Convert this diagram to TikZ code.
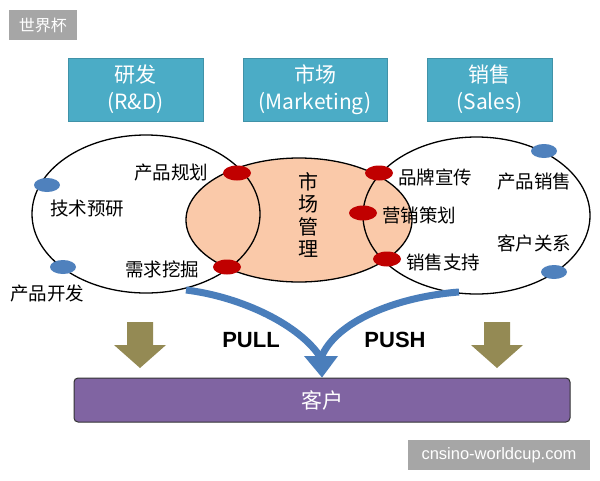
\documentclass[tikz,border=0pt]{standalone}
\usepackage{fontspec}
\usetikzlibrary{shapes.geometric,calc}
\newfontfamily\cjk{Noto Sans CJK SC}
\newfontfamily\lsans{Liberation Sans}
\definecolor{tealbox}{HTML}{4BACC6}
\definecolor{peach}{HTML}{FAC9A9}
\definecolor{dotred}{HTML}{C00000}
\definecolor{dotblue}{HTML}{4F81BD}
\definecolor{arrblue}{HTML}{4A7EBB}
\definecolor{olive1}{HTML}{948A54}
\definecolor{purple1}{HTML}{8064A2}
\definecolor{wmgray}{HTML}{A6A6A6}
\begin{document}
\begin{tikzpicture}[x=1pt,y=-1pt,
  topbox/.style={fill=tealbox, draw=tealbox!85!black, line width=0.6pt, text=white, align=center,
    font=\cjk\fontsize{21}{27}\selectfont, minimum height=63pt, inner sep=0pt},
  lbl/.style={font=\cjk\fontsize{18.5}{20}\selectfont, inner sep=0pt},
  rdot/.style={fill=dotred, ellipse, minimum width=28pt, minimum height=15pt, inner sep=0pt},
  bdot/.style={fill=dotblue, ellipse, minimum width=26pt, minimum height=14pt, inner sep=0pt},
  ring/.style={draw=black, line width=1.3pt},
  blockarrow/.style={fill=olive1},
  flow/.style={draw=arrblue, line width=7pt},
  wm/.style={fill=wmgray, text=white, inner sep=0pt}
]
\useasboundingbox (0,0) rectangle (600,480);
\fill[white] (0,0) rectangle (600,480);

% top boxes
\node[topbox, minimum width=135pt] (rd) at (135.5,89.5) {研发\\(R\&D)};
\node[topbox, minimum width=144pt] (mk) at (315,89.5) {市场\\(Marketing)};
\node[topbox, minimum width=125pt] (sl) at (489.5,89.5) {销售\\(Sales)};

% ellipses
\filldraw[fill=peach, ring] (299,220) ellipse [x radius=113pt, y radius=62pt];
\draw[ring] (146,214) ellipse [x radius=114pt, y radius=79pt];
\draw[ring] (476.5,215.5) ellipse [x radius=113.5pt, y radius=78.5pt];

% dots
\node[rdot] (r1) at (237,173) {};
\node[rdot] (r2) at (227,267) {};
\node[rdot] (r3) at (379,173) {};
\node[rdot] (r4) at (363,213) {};
\node[rdot] (r5) at (387,259) {};
\node[bdot] (b1) at (47,185) {};
\node[bdot] (b2) at (63,267) {};
\node[bdot] (b3) at (544,151) {};
\node[bdot] (b4) at (554,272) {};

% labels
\node[lbl] (l1) at (171,173) {产品规划};
\node[lbl] (l2) at (87,209) {技术预研};
\node[lbl] (l3) at (162,269) {需求挖掘};
\node[lbl] (l4) at (47,293) {产品开发};
\node[lbl] (l5) at (435,177) {品牌宣传};
\node[lbl] (l6) at (419,215) {营销策划};
\node[lbl] (l7) at (443,262) {销售支持};
\node[lbl] (l8) at (534,182) {产品销售};
\node[lbl] (l9) at (534,243) {客户关系};
\node[font=\cjk\fontsize{20}{22.5}\selectfont, align=center, inner sep=0pt] (sc) at (308,215) {市\\场\\管\\理};

% customer box
\node[fill=purple1, draw=black!80, line width=1pt, rounded corners=4pt, minimum width=496pt,
  minimum height=44pt, text=white, font=\cjk\fontsize{21}{24}\selectfont] (kh) at (322,400) {客户};

% olive block arrows
\fill[blockarrow] (127,322) -- (153,322) -- (153,345) -- (166,345) -- (140,368) -- (114,345) -- (127,345) -- cycle;
\fill[blockarrow] (484,322) -- (510,322) -- (510,345) -- (523,345) -- (497,368) -- (471,345) -- (484,345) -- cycle;

% PULL / PUSH
\node[font=\lsans\bfseries\fontsize{22}{24}\selectfont, inner sep=0pt] (pull) at (251,340) {PULL};
\node[font=\lsans\bfseries\fontsize{22}{24}\selectfont, inner sep=0pt] (push) at (395,340) {PUSH};

% blue flow arrows
\coordinate (ls) at (186,290);
\coordinate (rs) at (459,292);
\coordinate (hb) at (321,358);
\draw[flow] (ls) .. controls (242,297) and (300,325) .. (hb);
\draw[flow] (rs) .. controls (395,297) and (335,322) .. (hb);
\fill[arrblue] ($(hb)+(-17,-2)$) -- (kh.north) -- ($(hb)+(17,-2)$) -- cycle;

% watermarks
\node[wm, minimum width=68pt, minimum height=30pt, font=\cjk\fontsize{16}{18}\selectfont] (w1) at (43,25) {世界杯};
\node[wm, minimum width=182pt, minimum height=30pt, font=\lsans\fontsize{16.5}{18}\selectfont] (w2) at (499,455) {cnsino-worldcup.com};
\end{tikzpicture}
\end{document}
